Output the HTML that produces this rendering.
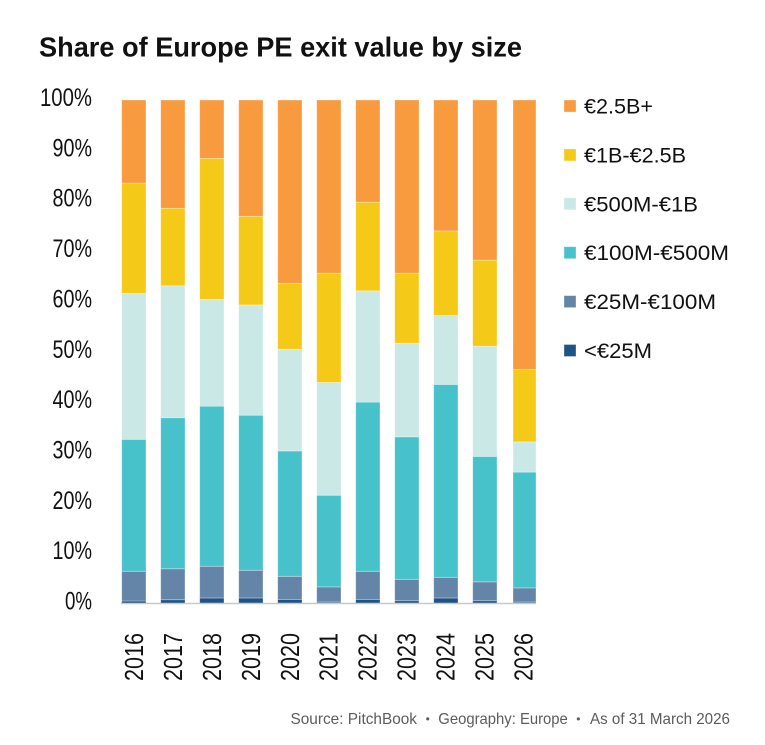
<!DOCTYPE html>
<html lang="en">
<head>
<meta charset="utf-8">
<title>Share of Europe PE exit value by size</title>
<style>
html,body{margin:0;padding:0;background:#fff;width:765px;height:745px;overflow:hidden}
svg{display:block}
text{font-family:"Liberation Sans",sans-serif;fill:#111}
.note{font-size:16px;fill:#5c5c5c}
</style>
</head>
<body>
<svg id="chart" width="765" height="745" viewBox="0 0 765 745" xmlns="http://www.w3.org/2000/svg">
<text x="39" y="56.5" style="font-weight:700;font-size:27.5px" textLength="483" lengthAdjust="spacingAndGlyphs">Share of Europe PE exit value by size</text>
<g id="plot"></g>
<g id="yaxis"></g>
<g id="xaxis"></g>
<g id="legend"></g>
<g>
<text class="note" x="290.5" y="724" textLength="126.5" lengthAdjust="spacingAndGlyphs">Source: PitchBook</text>
<text class="note" x="427.7" y="723" text-anchor="middle" style="font-size:12px">•</text>
<text class="note" x="438.3" y="724" textLength="129.5" lengthAdjust="spacingAndGlyphs">Geography: Europe</text>
<text class="note" x="578.3" y="723" text-anchor="middle" style="font-size:12px">•</text>
<text class="note" x="590" y="724" textLength="140" lengthAdjust="spacingAndGlyphs">As of 31 March 2026</text>
</g>
</svg>
<script>
const years = ['2016','2017','2018','2019','2020','2021','2022','2023','2024','2025','2026'];
const yTicks = [0,10,20,30,40,50,60,70,80,90,100];
const under25M = [0.5,0.75,1.1,1.1,0.8,0.3,0.8,0.55,1.1,0.55,0.3];
const from25Mto100M = [5.9,6.15,6.3,5.5,4.6,3,5.6,4.25,4.1,3.75,2.8];
const from100Mto500M = [26.2,30,31.8,30.8,24.9,18.2,33.6,28.3,38.3,24.9,23];
const from500Mto1B = [29,26.2,21.2,21.9,20.2,22.4,22.1,18.6,13.7,21.9,6];
const from1Bto2_5B = [21.9,15.4,28,17.6,13.1,21.7,17.6,13.9,16.8,17.1,14.4];
const over2_5B = [16.5,21.5,11.6,23.1,36.4,34.4,20.3,34.4,26,31.8,53.5];
const seriesNames = ['<€25M','€25M-€100M','€100M-€500M','€500M-€1B','€1B-€2.5B','€2.5B+'];
const seriesValues = [under25M,from25Mto100M,from100Mto500M,from500Mto1B,from1Bto2_5B,over2_5B];
const seriesColors = ['#1F5285','#6485A8','#47C2CA','#C9E8E6','#F5C918','#F89A3E'];

const NS = 'http://www.w3.org/2000/svg';
const plotBottom = 603.5, plotTop = 100;
function yScale(v){ return plotBottom - (v/100)*(plotBottom-plotTop); }
function xLeft(i){ return i === 10 ? 513 : 121.7 + 39*i; }
function barWidth(i){ return i === 10 ? 23 : 24.3; }
function labelBaseline(i){ return 143 + 38.94*i; }
function make(tag, attrs, parent){
  const el = document.createElementNS(NS, tag);
  for (const k in attrs) el.setAttribute(k, attrs[k]);
  parent.appendChild(el);
  return el;
}

const plot = document.getElementById('plot');
years.forEach(function(year, i){
  let running = 0;
  seriesValues.forEach(function(vals, s){
    const v = vals[i];
    const y1 = yScale(running), y2 = yScale(running + v);
    const r = make('rect', {x:xLeft(i), y:y2, width:barWidth(i), height:y1-y2, fill:seriesColors[s], stroke:'rgba(255,255,255,0.4)', 'stroke-width':0.8}, plot);
    
    
    running += v;
  });
});
const baseline = make('line', {x1:121, x2:536, y1:plotBottom, y2:plotBottom, stroke:'#c9c9c9', 'stroke-width':1.4}, plot);



const yaxis = document.getElementById('yaxis');
yTicks.forEach(function(t){
  const label = t + '%';
  const el = make('text', {x:92, y:yScale(t)+6, 'text-anchor':'end', 'font-size':25, textLength:(label.length-1)*12.5+14.5, lengthAdjust:'spacingAndGlyphs'}, yaxis);
  el.textContent = label;
  
  
});

const xaxis = document.getElementById('xaxis');
years.forEach(function(year, i){
  const bx = labelBaseline(i);
  const el = make('text', {x:bx, y:681, transform:'rotate(-90 '+bx+' 681)', 'font-size':26, textLength:48, lengthAdjust:'spacingAndGlyphs'}, xaxis);
  el.textContent = year;
  
  
});

const legend = document.getElementById('legend');
const legendOrder = [5,4,3,2,1,0];
const legendWidths = [69,102,114,145,132,68];
legendOrder.forEach(function(s, k){
  const top = 100 + 48.9*k;
  const sw = make('rect', {x:564, y:top, width:12, height:12, fill:seriesColors[s], stroke:'rgba(255,255,255,0.4)', 'stroke-width':0.8}, legend);
  
  
  const tx = make('text', {x:584, y:top+13.5, 'font-size':21, textLength:legendWidths[k], lengthAdjust:'spacingAndGlyphs'}, legend);
  tx.textContent = seriesNames[s];
  
  
});
</script>
</body>
</html>
